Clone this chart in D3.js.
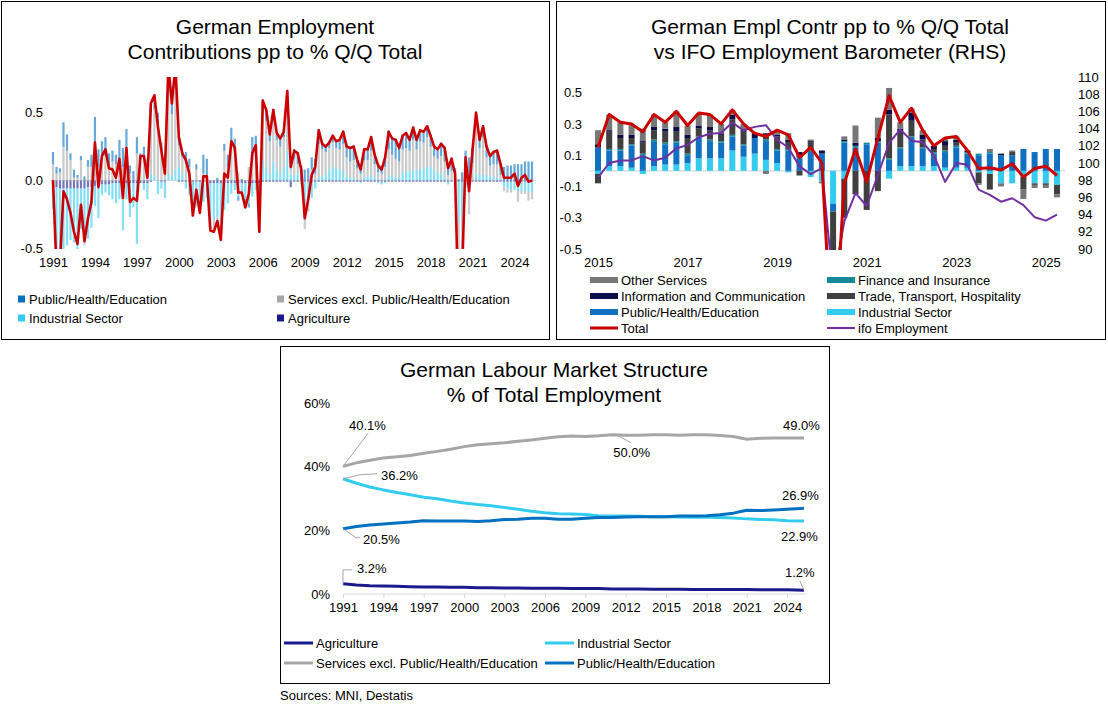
<!DOCTYPE html>
<html>
<head>
<meta charset="utf-8">
<script src="https://cdn.jsdelivr.net/npm/d3@7"></script>
<style>
body{margin:0;background:#fff;}
svg text{font-family:"Liberation Sans",Arial,Helvetica,sans-serif;fill:#000;}
</style>
</head>
<body>
<svg id="chart" width="1108" height="706"></svg>
<script>
// ---------- panel 1 : contributions pp to % q/q, 1991Q1 .. 2025Q2 ----------
var p1Total = [0.00,-0.65,-0.62,-0.08,-0.14,-0.24,-0.38,-0.47,-0.18,-0.45,
  -0.28,-0.16,0.28,-0.05,0.18,0.23,0.09,0.08,0.02,0.16,
  -0.13,0.24,-0.16,-0.13,-0.15,0.18,0.18,0.02,0.57,0.63,
  0.40,0.22,0.05,0.85,0.57,0.85,0.32,0.20,0.15,0.05,
  -0.26,-0.07,-0.24,0.03,0.03,-0.37,-0.38,-0.30,-0.44,0.05,
  0.02,0.29,0.24,-0.09,-0.09,-0.20,-0.10,0.20,0.26,-0.38,
  0.59,0.52,0.34,0.52,0.35,0.31,0.36,0.66,0.10,0.22,
  0.20,0.08,-0.28,-0.14,0.04,0.10,0.37,0.27,0.25,0.28,
  0.33,0.29,0.30,0.36,0.25,0.24,0.25,0.15,0.08,0.23,
  0.23,0.32,0.19,0.11,0.08,0.17,0.36,0.31,0.30,0.24,
  0.33,0.35,0.30,0.39,0.30,0.37,0.36,0.40,0.33,0.25,
  0.23,0.27,0.24,0.09,0.16,0.05,-1.00,-0.70,0.17,-0.08,
  0.23,0.50,0.30,0.40,0.25,0.18,0.21,0.22,0.12,0.02,
  0.02,0.02,0.05,-0.04,0.02,0.04,-0.01,0.00];
var p1Industrial = [-0.15,-0.70,-0.65,-0.45,-0.42,-0.38,-0.40,-0.45,-0.30,-0.40,
  -0.38,-0.30,-0.15,-0.25,-0.08,-0.06,-0.08,-0.12,-0.15,-0.12,
  -0.35,-0.12,-0.25,-0.18,-0.45,0.00,-0.05,-0.12,0.05,0.03,
  -0.10,-0.05,-0.12,0.05,0.03,0.08,0.10,0.05,-0.05,-0.10,
  -0.22,-0.18,-0.20,-0.15,-0.12,-0.25,-0.28,-0.25,-0.30,-0.20,
  -0.15,-0.08,-0.05,-0.10,-0.08,-0.12,-0.15,-0.10,-0.05,-0.15,
  0.15,0.10,0.05,0.14,0.08,0.05,0.10,0.22,0.05,0.04,
  0.05,-0.02,-0.15,-0.18,-0.12,-0.05,0.02,0.03,0.05,0.08,
  0.10,0.09,0.08,0.07,0.03,0.02,0.02,0.01,-0.01,0.02,
  0.03,0.04,0.02,-0.01,-0.02,-0.01,0.03,0.04,0.02,0.02,
  0.06,0.07,0.06,0.08,0.07,0.09,0.08,0.10,0.10,0.08,
  0.06,0.05,0.02,-0.02,0.00,-0.03,-0.30,-0.25,-0.04,-0.04,
  0.00,0.05,0.04,0.04,0.04,0.03,0.03,0.02,0.01,-0.04,
  -0.05,-0.06,-0.06,-0.07,-0.07,-0.07,-0.07,-0.08];
var p1Services = [0.12,0.05,0.06,0.25,0.22,0.15,0.02,0.02,0.15,-0.02,
  0.10,0.10,0.22,0.10,0.18,0.18,0.12,0.14,0.12,0.16,
  0.10,0.20,0.05,0.00,0.20,0.15,0.18,0.12,0.45,0.50,
  0.40,0.22,0.14,0.60,0.46,0.60,0.16,0.12,0.14,0.10,
  -0.03,0.08,-0.02,0.05,0.02,-0.10,-0.08,-0.05,-0.12,0.22,
  0.10,0.28,0.20,0.06,0.00,0.00,0.10,0.15,0.18,-0.15,
  0.35,0.34,0.24,0.30,0.22,0.20,0.22,0.35,0.05,0.12,
  0.07,0.00,-0.20,-0.04,0.08,0.05,0.25,0.20,0.16,0.16,
  0.18,0.15,0.15,0.20,0.14,0.12,0.13,0.08,0.05,0.13,
  0.12,0.18,0.10,0.06,0.05,0.10,0.20,0.15,0.14,0.12,
  0.17,0.17,0.16,0.22,0.16,0.20,0.20,0.22,0.15,0.10,
  0.10,0.13,0.12,0.04,0.07,0.00,-0.70,-0.50,0.12,-0.20,
  0.13,0.38,0.20,0.28,0.13,0.08,0.09,0.10,0.03,-0.03,
  -0.03,-0.02,0.00,-0.08,-0.02,-0.02,-0.07,-0.05];
var p1Public = [0.09,0.05,0.03,0.18,0.12,0.05,0.06,0.02,0.03,0.03,
  0.05,0.09,0.25,0.13,0.11,0.14,0.08,0.08,0.07,0.14,
  0.14,0.18,0.06,0.07,0.12,0.05,0.07,0.04,0.08,0.10,
  0.10,0.06,0.04,0.20,0.08,0.17,0.07,0.04,0.07,0.06,
  0.00,0.04,-0.01,0.14,0.14,0.00,0.00,0.02,0.00,0.05,
  0.09,0.11,0.11,-0.03,0.01,-0.06,-0.03,0.17,0.15,-0.06,
  0.10,0.09,0.06,0.09,0.06,0.07,0.05,0.10,0.05,0.07,
  0.09,0.11,0.08,0.09,0.09,0.11,0.11,0.05,0.05,0.05,
  0.06,0.06,0.08,0.10,0.09,0.11,0.11,0.07,0.05,0.09,
  0.09,0.11,0.08,0.07,0.06,0.09,0.14,0.13,0.15,0.11,
  0.11,0.12,0.09,0.10,0.08,0.09,0.09,0.09,0.09,0.08,
  0.08,0.10,0.11,0.08,0.10,0.09,0.01,0.06,0.10,0.17,
  0.11,0.08,0.07,0.09,0.09,0.08,0.10,0.11,0.09,0.10,
  0.11,0.11,0.12,0.12,0.12,0.14,0.14,0.14];
var p1Agri = [-0.06,-0.05,-0.06,-0.06,-0.06,-0.06,-0.06,-0.06,-0.06,-0.06,
  -0.05,-0.05,-0.04,-0.03,-0.03,-0.03,-0.03,-0.02,-0.02,-0.02,
  -0.02,-0.02,-0.02,-0.02,-0.02,-0.02,-0.02,-0.02,-0.01,0.00,
  0.00,-0.01,-0.01,0.00,0.00,0.00,-0.01,-0.01,-0.01,-0.01,
  -0.01,-0.01,-0.01,-0.01,-0.01,-0.02,-0.02,-0.02,-0.02,-0.02,
  -0.02,-0.02,-0.02,-0.02,-0.02,-0.02,-0.02,-0.02,-0.02,-0.02,
  -0.01,-0.01,-0.01,-0.01,-0.01,-0.01,-0.01,-0.01,-0.05,-0.01,
  -0.01,-0.01,-0.01,-0.01,-0.01,-0.01,-0.01,-0.01,-0.01,-0.01,
  -0.01,-0.01,-0.01,-0.01,-0.01,-0.01,-0.01,-0.01,-0.01,-0.01,
  -0.01,-0.01,-0.01,-0.01,-0.01,-0.01,-0.01,-0.01,-0.01,-0.01,
  -0.01,-0.01,-0.01,-0.01,-0.01,-0.01,-0.01,-0.01,-0.01,-0.01,
  -0.01,-0.01,-0.01,-0.01,-0.01,-0.01,-0.01,-0.01,-0.01,-0.01,
  -0.01,-0.01,-0.01,-0.01,-0.01,-0.01,-0.01,-0.01,-0.01,-0.01,
  -0.01,-0.01,-0.01,-0.01,-0.01,-0.01,-0.01,-0.01];
var p1StartYear = 1991;
var p1YearTicks = [1991,1994,1997,2000,2003,2006,2009,2012,2015,2018,2021,2024];
var p1YTicks = [-0.5,0.0,0.5];

// ---------- panel 2 : 2015Q1 .. 2025Q2, sectors + ifo barometer ----------
var p2Industrial = [-0.02,0.03,0.03,0.02,-0.02,0.03,0.04,0.04,0.05,0.08,
  0.08,0.08,0.13,0.09,0.11,0.07,0.05,-0.01,0.00,-0.04,
  -0.07,-0.21,-0.05,0.00,0.00,0.00,-0.05,0.03,0.03,0.03,
  0.03,0.02,0.02,0.02,-0.01,-0.02,-0.08,-0.08,-0.04,-0.08,
  -0.08,-0.09];
var p2Public = [0.15,0.10,0.10,0.14,0.10,0.16,0.13,0.14,0.05,0.13,
  0.11,0.10,0.09,0.07,0.10,0.12,0.08,0.13,0.08,0.12,
  0.11,-0.05,0.18,0.15,0.17,0.18,0.07,0.11,0.18,0.11,
  0.08,0.10,0.13,0.09,0.10,0.11,0.10,0.10,0.14,0.12,
  0.14,0.14];
var p2Finance = [0.00,0.01,0.01,0.01,0.01,0.01,0.01,0.01,0.01,0.01,
  0.01,0.01,0.01,0.01,0.00,0.01,0.01,0.01,0.01,0.01,
  0.00,0.00,0.01,0.01,0.01,0.01,0.01,0.01,0.01,0.01,
  0.01,0.01,0.01,0.01,0.01,0.01,0.00,0.00,0.00,0.00,
  0.00,0.00];
var p2Trade = [-0.06,0.11,0.07,0.04,0.07,0.06,0.07,0.06,0.10,0.05,
  0.06,0.04,0.10,0.08,0.00,0.03,0.08,0.04,-0.03,0.05,
  0.00,-0.60,-0.25,-0.15,-0.25,-0.13,0.28,0.10,0.10,0.05,
  0.02,0.03,0.02,0.00,-0.07,-0.10,0.00,0.02,-0.08,-0.01,
  -0.01,-0.06];
var p2Info = [0.02,0.01,0.02,0.02,0.01,0.02,0.02,0.03,0.02,0.02,
  0.02,0.01,0.03,0.01,0.03,0.01,0.01,0.02,0.03,0.01,
  0.02,-0.02,0.01,0.02,0.00,0.02,0.03,0.02,0.05,0.03,
  0.02,0.03,0.02,0.01,0.00,0.00,0.01,0.00,0.00,0.00,
  0.00,0.00];
var p2Other = [0.09,0.10,0.08,0.07,0.08,0.08,0.04,0.10,0.06,0.08,
  0.08,0.06,0.03,0.04,0.00,-0.02,0.03,0.04,0.00,0.01,
  -0.01,-0.40,0.02,0.11,0.00,0.13,0.14,0.04,0.03,0.03,
  0.00,0.02,0.02,0.00,-0.01,0.02,-0.02,0.01,-0.06,-0.02,
  -0.02,-0.02];
var p2Total = [0.15,0.36,0.31,0.30,0.25,0.36,0.31,0.38,0.29,0.37,
  0.36,0.30,0.39,0.30,0.24,0.22,0.26,0.23,0.085,0.15,
  0.05,-1.25,-0.08,0.14,-0.07,0.21,0.48,0.31,0.40,0.26,
  0.16,0.21,0.22,0.13,0.015,0.02,0.005,0.045,-0.04,0.015,
  0.03,-0.03];
var p2Ifo = [98.3,100.0,100.3,100.3,100.8,100.3,100.6,101.7,102.1,103.0,
  103.4,103.5,104.7,103.8,104.2,104.4,102.7,101.8,99.6,98.7,
  99.4,86.0,93.2,96.5,95.0,98.6,102.3,103.9,102.6,102.4,
  100.9,97.8,100.0,99.8,96.9,96.3,95.5,95.9,95.1,93.7,
  93.3,94.0];
var p2StartYear = 2015;
var p2YearTicks = [2015,2017,2019,2021,2023,2025];
var p2LeftTicks = [-0.5,-0.3,-0.1,0.1,0.3,0.5];
var p2RightTicks = [90,92,94,96,98,100,102,104,106,108,110];

// ---------- panel 3 : % of total employment ----------
var p3Dates = [1991,1992,1993,1994,1995,1996,1997,1998,1999,2000,
  2001,2002,2003,2004,2005,2006,2007,2008,2009,2010,
  2011,2012,2013,2014,2015,2016,2017,2018,2019,2020,
  2021,2022,2023,2024,2025.25];
var p3Services = [40.1,41.2,42.0,42.7,43.1,43.5,44.2,44.8,45.5,46.3,
  46.9,47.2,47.5,48.0,48.4,48.9,49.4,49.6,49.5,49.7,
  50.0,49.9,49.9,50.0,50.0,49.9,50.0,50.0,49.8,49.5,
  48.6,48.9,49.0,49.0,49.0];
var p3Industrial = [36.2,34.8,33.6,32.7,31.9,31.2,30.4,29.9,29.2,28.6,
  28.1,27.7,27.2,26.6,26.0,25.5,25.2,25.1,25.0,24.6,
  24.5,24.5,24.4,24.3,24.3,24.2,24.1,24.1,24.0,23.9,
  23.6,23.4,23.3,23.0,22.9];
var p3Public = [20.5,21.2,21.7,22.0,22.3,22.6,23.0,22.9,22.9,22.9,
  22.8,23.0,23.4,23.5,23.8,23.8,23.5,23.5,23.8,24.0,
  24.0,24.2,24.3,24.3,24.3,24.5,24.5,24.6,24.9,25.4,
  26.3,26.2,26.4,26.6,26.9];
var p3Agri = [3.2,2.8,2.6,2.5,2.4,2.3,2.2,2.2,2.1,2.1,
  2.0,2.0,1.9,1.9,1.8,1.8,1.8,1.7,1.7,1.7,
  1.6,1.6,1.6,1.5,1.5,1.5,1.4,1.4,1.4,1.4,
  1.4,1.3,1.3,1.3,1.2];
var p3YearTicks = [1991,1994,1997,2000,2003,2006,2009,2012,2015,2018,2021,2024];
var p3YTicks = [0,20,40,60];

// colours
var COL = {
  pub:"#0070c0", srv:"#a6a6a6", ind:"#33ccee", agri:"#1a1a8c",
  other:"#777777", fin:"#178a98", info:"#0b0b48", trade:"#404040", pub2:"#1170c0",
  total:"#cc0000", ifo:"#7030a0"
};

var SVG = d3.select("#chart");
SVG.append("rect").attr("width",1108).attr("height",706).attr("fill","#fff");
var DEFS = SVG.append("defs");

function drawBox(x,y,w,h){
  SVG.append("rect").attr("x",x+0.5).attr("y",y+0.5).attr("width",w).attr("height",h)
     .attr("fill","none").attr("stroke","#000").attr("stroke-width",1);
}

function drawTitle(cx,y,lines){
  lines.forEach(function(t,k){
    SVG.append("text").attr("x",cx).attr("y",y+k*25).attr("text-anchor","middle")
       .style("font-size","21px").text(t);
  });
}

function addClip(id,x,y,w,h){
  DEFS.append("clipPath").attr("id",id).append("rect")
      .attr("x",x).attr("y",y).attr("width",w).attr("height",h);
}

// style an axis group : no domain line, no tick marks, 13px labels
function plainAxis(g){
  g.select(".domain").remove();
  g.selectAll(".tick line").remove();
  g.selectAll(".tick text").style("font-size","13px").attr("fill","#000");
}

function fmt1(v){ return v.toFixed(1); }

// ================= PANEL 1 =================
function panel1(){
  drawBox(1,1,548,338);
  drawTitle(275,34,["German Employment","Contributions pp to % Q/Q Total"]);

  var x = d3.scaleLinear().domain([0,p1Total.length-1]).range([53,532]);
  var y = d3.scaleLinear().domain([-0.5,0.75]).range([248,79]);
  addClip("clip1",46,77,492,172);

  // zero line
  SVG.append("line").attr("x1",50).attr("x2",536).attr("y1",y(0)).attr("y2",y(0))
     .attr("stroke","#d9d9d9").attr("stroke-width",1);

  var rows = p1Total.map(function(t,i){
    return {i:i, agri:p1Agri[i], ind:p1Industrial[i], srv:p1Services[i], pub:p1Public[i]};
  });
  var series = d3.stack().keys(["agri","ind","srv","pub"]).offset(d3.stackOffsetDiverging)(rows);

  var g = SVG.append("g").attr("clip-path","url(#clip1)");
  g.selectAll(".s1").data(series).enter().append("g").attr("class","s1")
   .attr("fill",function(d){return COL[d.key];}).attr("fill-opacity",0.6)
   .selectAll("rect").data(function(d){return d;}).enter().append("rect")
   .attr("x",function(d){return x(d.data.i)-1.1;})
   .attr("width",2.2)
   .attr("y",function(d){return y(Math.max(d[0],d[1]));})
   .attr("height",function(d){return Math.abs(y(d[0])-y(d[1]));});

  g.append("path").datum(p1Total)
   .attr("fill","none").attr("stroke",COL.total).attr("stroke-width",2.6).attr("stroke-linejoin","round")
   .attr("d",d3.line().x(function(d,i){return x(i);}).y(function(d){return y(d);}));

  // axes
  var ya = SVG.append("g").attr("transform","translate(43,0)")
     .call(d3.axisLeft(y).tickValues(p1YTicks).tickFormat(fmt1).tickSize(0).tickPadding(0));
  plainAxis(ya);
  var xa = SVG.append("g").attr("transform","translate(0,258)")
     .call(d3.axisBottom(x).tickValues(p1YearTicks.map(function(yr){return (yr-p1StartYear)*4;}))
     .tickFormat(function(d){return p1StartYear+d/4;}).tickSize(0).tickPadding(0));
  plainAxis(xa);

  // legend
  var leg = [["Public/Health/Education","pub",18,299],["Services excl. Public/Health/Education","srv",277,299],
             ["Industrial Sector","ind",18,318],["Agriculture","agri",277,318]];
  leg.forEach(function(l){
    SVG.append("rect").attr("x",l[2]).attr("y",l[3]-3.5).attr("width",7).attr("height",7).attr("fill",COL[l[1]]);
    SVG.append("text").attr("x",l[2]+11).attr("y",l[3]).attr("dy","0.35em").style("font-size","13px").text(l[0]);
  });
}

// ================= PANEL 2 =================
function panel2(){
  drawBox(556,1,549,338);
  drawTitle(830,34,["German Empl Contr pp to % Q/Q Total","vs IFO Employment Barometer (RHS)"]);

  var x = d3.scaleLinear().domain([0,p2Total.length-1]).range([598,1057]);
  var y = d3.scaleLinear().domain([-0.5,0.6]).range([249,77]);
  var yr = d3.scaleLinear().domain([90,110]).range([249,77]);
  addClip("clip2",586,76,482,174);

  SVG.append("line").attr("x1",590).attr("x2",1065).attr("y1",y(0)).attr("y2",y(0))
     .attr("stroke","#d9d9d9").attr("stroke-width",1.2);

  var rows = p2Total.map(function(t,i){
    return {i:i, ind:p2Industrial[i], pub2:p2Public[i], fin:p2Finance[i], trade:p2Trade[i], info:p2Info[i], other:p2Other[i]};
  });
  var series = d3.stack().keys(["ind","pub2","fin","trade","info","other"]).offset(d3.stackOffsetDiverging)(rows);

  var g = SVG.append("g").attr("clip-path","url(#clip2)");
  g.selectAll(".s2").data(series).enter().append("g").attr("class","s2")
   .attr("fill",function(d){return COL[d.key];})
   .selectAll("rect").data(function(d){return d;}).enter().append("rect")
   .attr("x",function(d){return x(d.data.i)-3;})
   .attr("width",6)
   .attr("y",function(d){return y(Math.max(d[0],d[1]));})
   .attr("height",function(d){return Math.abs(y(d[0])-y(d[1]));});

  g.append("path").datum(p2Ifo)
   .attr("fill","none").attr("stroke",COL.ifo).attr("stroke-width",2).attr("stroke-linejoin","round")
   .attr("d",d3.line().x(function(d,i){return x(i);}).y(function(d){return yr(d);}));
  g.append("path").datum(p2Total)
   .attr("fill","none").attr("stroke",COL.total).attr("stroke-width",3).attr("stroke-linejoin","round")
   .attr("d",d3.line().x(function(d,i){return x(i);}).y(function(d){return y(d);}));

  var ya = SVG.append("g").attr("transform","translate(582,0)")
     .call(d3.axisLeft(y).tickValues(p2LeftTicks).tickFormat(fmt1).tickSize(0).tickPadding(0));
  plainAxis(ya);
  var yra = SVG.append("g").attr("transform","translate(1078,0)")
     .call(d3.axisRight(yr).tickValues(p2RightTicks).tickFormat(d3.format("d")).tickSize(0).tickPadding(0));
  plainAxis(yra);
  var xa = SVG.append("g").attr("transform","translate(0,258)")
     .call(d3.axisBottom(x).tickValues(p2YearTicks.map(function(yy){return (yy-p2StartYear)*4;}))
     .tickFormat(function(d){return p2StartYear+d/4;}).tickSize(0).tickPadding(0));
  plainAxis(xa);

  // legend: bars as thick swatches, lines as thin ones
  var leg = [["Other Services","other",590,280,"bar"],["Finance and Insurance","fin",827,280,"bar"],
             ["Information and Communication","info",590,296,"bar"],["Trade, Transport, Hospitality","trade",827,296,"bar"],
             ["Public/Health/Education","pub2",590,312,"bar"],["Industrial Sector","ind",827,312,"bar"],
             ["Total","total",590,328,"line"],["ifo Employment","ifo",827,328,"line"]];
  leg.forEach(function(l){
    var h = l[4]=="bar" ? 6 : (l[1]=="total" ? 3 : 2);
    SVG.append("rect").attr("x",l[2]).attr("y",l[3]-h/2).attr("width",28).attr("height",h).attr("fill",COL[l[1]]);
    SVG.append("text").attr("x",l[2]+31).attr("y",l[3]).attr("dy","0.35em").style("font-size","13px").text(l[0]);
  });
}

// ================= PANEL 3 =================
function panel3(){
  drawBox(280,346,549,337);
  drawTitle(554,377,["German Labour Market Structure","% of Total Employment"]);

  var x = d3.scaleLinear().domain([1991,2025.25]).range([343,804]);
  var y = d3.scaleLinear().domain([0,60]).range([594,403]);

  var xa = SVG.append("g").attr("transform","translate(0,594)")
     .call(d3.axisBottom(x).tickValues(p3YearTicks).tickFormat(d3.format("d")).tickSize(4).tickPadding(5).tickSizeOuter(0));
  xa.select(".domain").attr("stroke","#d9d9d9").attr("d","M343,0H807");
  xa.selectAll(".tick line").attr("stroke","#d9d9d9");
  xa.selectAll(".tick text").style("font-size","13px").attr("fill","#000");

  var ya = SVG.append("g").attr("transform","translate(330,0)")
     .call(d3.axisLeft(y).tickValues(p3YTicks).tickFormat(function(d){return d+"%";}).tickSize(0).tickPadding(0));
  plainAxis(ya);

  var lines = [["agri",p3Agri],["srv",p3Services],["ind",p3Industrial],["pub",p3Public]];
  var lineGen = d3.line().x(function(d,i){return x(p3Dates[i]);}).y(function(d){return y(d);});
  lines.forEach(function(l){
    SVG.append("path").datum(l[1]).attr("fill","none").attr("stroke",COL[l[0]])
       .attr("stroke-width",3).attr("stroke-linejoin","round").attr("d",lineGen);
  });

  // data labels with leader lines (offsets from the data point)
  var last = p3Dates.length-1;
  var maxIdx = d3.maxIndex(p3Services);
  var notes = [
    [p3Services,0,6,-41,[[0,0],[25,-33]]],
    [p3Industrial,0,38,-3,[[0,0],[17,-4],[34,-5]]],
    [p3Public,0,20,11,[[0,0],[13,9],[17,9]]],
    [p3Agri,0,14,-15,[[0,1],[0,-14],[9,-14]]],
    [p3Services,maxIdx,1,18,[[6,1],[19,8]]],
    [p3Services,last,-21,-13,null],
    [p3Public,last,-22,-13,null],
    [p3Industrial,last,-23,15,null],
    [p3Agri,last,-19,-18,[[0,0],[-4,-9]]]
  ];
  notes.forEach(function(n){
    var px = x(p3Dates[n[1]]), py = y(n[0][n[1]]);
    if(n[4]){
      SVG.append("path").attr("fill","none").attr("stroke","#a6a6a6").attr("stroke-width",1)
         .attr("d",d3.line()(n[4].map(function(p){return [px+p[0],py+p[1]];})));
    }
    SVG.append("text").attr("x",px+n[2]).attr("y",py+n[3]).attr("dy","0.35em")
       .style("font-size","13px").text(n[0][n[1]].toFixed(1)+"%");
  });

  var leg = [["Agriculture","agri",284,643],["Industrial Sector","ind",545,643],
             ["Services excl. Public/Health/Education","srv",284,663],["Public/Health/Education","pub",545,663]];
  leg.forEach(function(l){
    SVG.append("line").attr("x1",l[2]).attr("x2",l[2]+29).attr("y1",l[3]).attr("y2",l[3])
       .attr("stroke",COL[l[1]]).attr("stroke-width",3);
    SVG.append("text").attr("x",l[2]+32).attr("y",l[3]).attr("dy","0.35em").style("font-size","13px").text(l[0]);
  });

  SVG.append("text").attr("x",280).attr("y",695).attr("dy","0.35em").style("font-size","13px").text("Sources: MNI, Destatis");
}

panel1();
panel2();
panel3();
</script>
</body>
</html>
